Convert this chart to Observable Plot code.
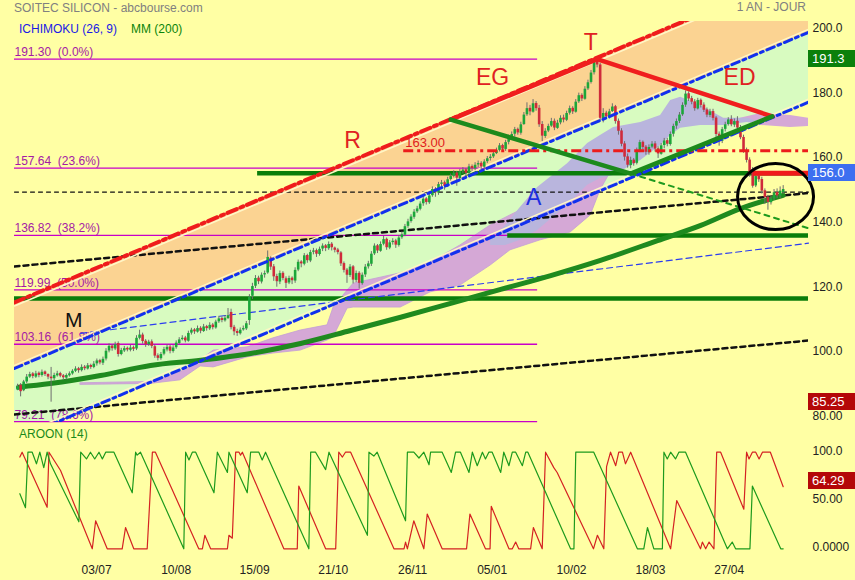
<!DOCTYPE html>
<html><head><meta charset="utf-8">
<script src="https://cdn.jsdelivr.net/npm/d3@7"></script>
<script src="https://cdn.jsdelivr.net/npm/@observablehq/plot@0.6"></script>
<style>
html,body{margin:0;padding:0;background:#ffffa4;}
#wrap{position:relative;width:855px;height:580px;overflow:hidden;background:#ffffa4;font-family:"Liberation Sans",Arial,sans-serif;}
#wrap svg{position:absolute;left:0;}
.t{position:absolute;white-space:nowrap;font-size:12px;line-height:14px;}
.box{position:absolute;left:808px;width:47px;height:17px;color:#fff;font-size:13px;line-height:17px;padding-left:4px;box-sizing:border-box;}
</style></head><body><div id="wrap"></div>
<script>
// ---------- DATA ----------
const yTickVals=[200,180,160,140,120,100,80];
const yTickLabels=["200.0","180.0","160.0","140.0","120.0","100.0","80.00"];
const xTickIdx=[25.9,52.0,77.7,103.5,129.5,155.6,181.6,207.5,233.3];
const xTickLabels=["03/07","10/08","15/09","21/10","26/11","05/01","10/02","18/03","27/04"];
const aroonTickVals=[100,50,0];
const aroonTickLabels=["100.0","50.00","0.0000"];

const open=[89.0,90.5,88.8,91.5,93.0,94.0,93.0,94.2,93.5,94.6,
93.8,93.0,92.5,93.4,94.1,93.4,92.7,93.4,94.0,94.8,
95.6,95.0,96.1,95.5,96.6,96.0,97.1,98.1,97.3,98.6,
101.1,102.6,101.7,103.4,100.0,101.1,101.9,101.3,102.1,101.7,
105.0,106.0,104.1,103.0,103.9,102.4,99.6,98.7,100.1,101.4,
102.3,100.9,102.1,103.4,104.6,105.1,104.1,106.6,107.6,106.9,
108.1,107.1,108.6,107.9,109.1,108.2,110.1,111.1,110.4,111.1,
113.0,108.4,107.1,106.4,107.6,107.9,110.5,118.0,121.1,123.6,
122.4,124.6,125.2,129.8,127.1,124.1,122.4,125.1,123.4,122.1,
123.6,122.7,126.1,128.6,127.9,130.6,128.9,131.6,132.1,130.9,
132.6,133.6,132.7,134.1,132.9,132.3,131.4,128.1,126.1,124.4,
127.1,122.9,125.1,121.9,124.6,127.1,127.9,131.1,133.6,131.9,
134.1,135.6,132.9,134.6,135.1,133.7,136.1,136.9,139.6,141.1,
142.4,144.1,144.9,146.6,148.1,146.9,149.1,151.1,149.9,152.6,
153.1,151.9,154.1,155.1,156.1,154.4,156.6,157.1,155.9,158.1,
157.4,158.6,159.1,157.9,159.6,160.6,161.1,162.1,163.1,164.6,
163.4,165.6,167.1,168.1,169.6,168.4,171.1,174.1,176.1,174.9,
177.6,176.1,171.1,167.4,169.1,170.6,172.1,169.9,171.6,173.1,
172.4,174.6,176.1,174.9,178.1,180.1,178.9,182.1,184.1,187.1,
190.6,189.5,172.9,174.6,173.4,175.1,176.6,172.1,169.1,165.1,
161.1,158.4,160.1,159.1,163.1,165.6,164.1,162.4,164.1,165.1,
163.6,161.9,164.6,166.1,164.9,168.1,170.6,172.1,174.1,177.1,
180.6,179.1,178.1,175.9,178.6,177.1,175.6,173.9,175.1,173.1,
168.1,165.9,169.6,171.1,172.6,170.9,172.1,170.1,167.1,163.1,
160.1,157.0,152.1,155.1,154.1,150.6,148.6,146.9,148.1,150.1,
148.9,150.0];
const high=[90.8,91.0,92.0,93.8,94.5,94.4,94.8,94.6,95.2,94.9,
94.0,96.0,94.2,94.8,94.5,93.8,94.0,94.6,95.3,96.2,
96.0,96.8,96.6,97.2,97.0,97.8,98.6,98.5,99.2,101.8,
103.3,103.0,103.8,103.9,101.9,102.5,102.3,102.8,102.6,105.8,
107.5,106.6,104.6,104.4,104.5,102.9,100.2,100.6,102.2,103.0,
102.8,102.7,104.2,105.2,105.8,105.6,107.2,108.1,108.0,108.8,
108.6,109.3,109.0,109.8,109.6,110.6,111.8,111.6,112.0,114.2,
114.0,109.0,107.8,108.2,108.8,110.2,118.5,122.0,124.4,124.2,
125.2,125.8,132.0,130.2,127.8,124.8,125.8,125.6,124.0,124.2,
124.0,126.8,129.2,129.0,131.2,131.0,132.2,132.8,132.6,133.2,
134.2,134.0,134.8,134.6,133.2,132.8,131.8,128.6,126.6,127.8,
127.5,125.8,125.6,125.2,127.8,128.8,131.8,134.2,134.0,134.8,
136.5,136.0,135.2,135.8,135.6,136.8,137.8,140.2,141.8,143.2,
144.8,145.8,147.2,148.8,148.5,149.8,151.8,151.6,153.2,153.8,
153.6,154.8,155.8,156.8,156.6,157.2,157.8,157.5,158.8,158.6,
159.3,159.8,159.6,160.2,161.2,161.8,162.8,163.8,165.2,165.0,
166.2,167.8,168.8,170.2,170.0,171.8,174.8,177.8,177.0,178.8,
178.2,177.0,172.0,169.8,171.2,173.0,172.8,172.4,173.8,174.0,
175.2,176.8,176.6,178.8,180.8,180.6,182.8,184.8,187.8,191.3,
191.0,190.0,176.0,175.2,175.8,177.5,177.0,172.8,169.8,165.8,
162.0,161.0,160.6,163.8,166.2,166.0,164.6,164.8,165.8,165.8,
164.2,165.2,166.8,166.8,168.8,171.2,172.8,174.8,177.8,181.5,
181.2,179.8,178.8,179.2,179.0,177.8,176.2,175.8,175.8,173.6,
168.8,170.2,171.8,173.2,173.8,172.8,173.5,170.8,167.8,163.8,
160.8,157.8,156.0,156.0,154.8,151.2,149.2,148.8,151.0,151.2,
151.8,152.2];
const low=[88.8,86.9,88.5,91.0,92.6,92.5,92.6,92.8,93.0,93.2,
92.2,85.25,91.8,93.0,92.8,92.0,92.2,93.0,93.6,94.4,
94.2,94.6,95.0,95.2,95.4,95.6,96.4,96.8,96.6,98.0,
100.5,101.0,101.2,99.2,99.6,100.6,100.8,100.8,100.9,101.2,
104.5,103.2,102.2,102.5,101.8,98.8,98.0,98.2,99.6,100.8,
100.2,100.4,101.6,103.0,104.2,103.6,103.8,106.0,106.2,106.6,
106.4,106.8,107.2,107.4,107.6,107.8,109.6,109.8,110.0,110.8,
107.6,105.8,105.6,106.0,107.2,107.4,109.0,117.0,120.4,121.6,
121.8,123.6,124.8,126.0,122.6,120.8,121.6,122.8,120.4,121.6,
121.6,122.0,125.6,126.8,127.4,128.2,128.4,130.8,130.0,130.4,
131.8,131.8,132.2,132.0,131.4,130.8,127.2,125.2,122.0,123.8,
121.8,122.2,120.2,121.4,123.8,126.4,127.2,130.6,131.2,131.6,
133.6,132.2,132.4,133.8,132.8,133.2,135.6,136.4,139.0,140.6,
141.8,143.6,144.4,145.8,146.2,146.4,148.6,148.6,149.2,151.8,
150.8,151.6,153.6,154.6,152.0,154.0,155.8,154.8,155.6,156.6,
156.8,157.8,157.2,157.0,159.0,159.8,160.6,161.8,162.6,162.8,
162.8,164.8,166.6,167.2,167.8,167.8,170.8,173.6,173.8,174.6,
175.2,170.2,165.8,166.8,168.6,170.2,169.2,169.6,171.0,171.6,
172.0,174.0,174.2,174.6,177.6,178.2,178.6,181.6,183.6,186.4,
188.6,172.2,171.6,172.8,172.8,174.8,171.2,167.8,164.2,159.8,
157.6,157.4,158.2,158.6,162.4,163.2,161.6,161.6,163.6,162.6,
160.6,161.6,163.6,164.2,164.4,167.2,169.6,171.4,173.6,176.4,
178.2,177.2,175.2,175.6,176.2,174.8,173.2,173.2,172.2,166.8,
164.4,165.2,168.8,170.6,170.4,170.2,169.2,166.4,162.2,159.2,
154.8,151.4,151.6,153.2,149.6,146.4,144.6,146.2,147.6,148.2,
148.2,149.6];
const close=[90.0,88.5,91.5,93.0,93.8,93.2,94.0,93.5,94.5,93.8,
93.0,92.5,93.5,94.0,93.3,92.8,93.5,94.0,94.8,95.5,
95.0,96.0,95.6,96.5,96.0,97.0,98.0,97.4,98.5,101.0,
102.5,101.8,103.0,100.0,101.2,101.8,101.4,102.0,101.6,105.0,
106.0,104.0,103.0,103.8,102.5,99.5,98.8,100.0,101.5,102.2,
101.0,102.0,103.5,104.5,105.0,104.2,106.5,107.5,107.0,108.0,
107.2,108.5,108.0,109.0,108.3,110.0,111.0,110.5,111.2,112.0,
108.3,107.0,106.5,107.5,108.0,109.5,117.7,121.0,123.5,122.5,
124.5,125.0,130.0,127.0,124.0,122.5,125.0,123.5,122.0,123.5,
122.8,126.0,128.5,128.0,130.5,129.0,131.5,132.0,131.0,132.5,
133.5,132.8,134.0,133.0,132.2,131.5,128.0,126.0,124.5,127.0,
123.0,125.0,122.0,124.5,127.0,128.0,131.0,133.5,132.0,134.0,
135.5,133.0,134.5,135.0,133.8,136.0,137.0,139.5,141.0,142.5,
144.0,145.0,146.5,148.0,147.0,149.0,151.0,150.0,152.5,153.0,
152.0,154.0,155.0,156.0,154.5,156.5,157.0,156.0,158.0,157.5,
158.5,159.0,158.0,159.5,160.5,161.0,162.0,163.0,164.5,163.5,
165.5,167.0,168.0,169.5,168.5,171.0,174.0,176.0,175.0,177.5,
176.0,171.0,167.5,169.0,170.5,172.0,170.0,171.5,173.0,172.5,
174.5,176.0,175.0,178.0,180.0,179.0,182.0,184.0,187.0,190.5,
189.5,173.0,174.5,173.5,175.0,176.5,172.0,169.0,165.0,161.0,
158.5,160.0,159.0,163.0,165.5,164.0,162.5,164.0,165.0,163.5,
162.0,164.5,166.0,165.0,168.0,170.5,172.0,174.0,177.0,180.5,
179.0,178.0,176.0,178.5,177.0,175.5,174.0,175.0,173.0,168.0,
166.0,169.5,171.0,172.5,171.0,172.0,170.0,167.0,163.0,160.0,
156.0,152.0,155.0,154.0,150.5,148.5,147.0,148.0,150.0,149.0,
150.5,151.0];

// moving average 200 [index, value]
const mm200=[[0.3,89.9],[10.8,91.0],[27.2,93.5],[43.6,96.6],[60,98.2],[76.4,100.3],[92.8,103.4],[109.2,107.4],[125.6,111.5],[142,115.8],[158.4,120.1],[174.8,124.4],[191.1,129.1],[209.8,135.2],[224,139.9],[237,145.1],[251,149.2]];

// Ichimoku cloud [index, top, bottom]
const cloudPink=[[20.7,91.1,90.6],[43.6,91.5,90.9],[53.4,94.5,92.0],[60,98.2,96.3],[64.3,101.2,96.0],[75.4,102.2,99.1],[83.9,105.0,100.3],[92.8,107.4,101.2],[101.6,109.0,104.3],[103.6,114.5,105.3],[108.2,119.8,114.2],[110.2,121.9,114.5],[125.6,125.1,114.5],[135.4,128.4,119.2],[145.2,133.7,121.3],[155.1,139.9,127.5],[161.6,143.0,132.2],[171.5,147.6,135.3],[181.3,152.3,137.7],[187.9,153.8,143.0],[191.1,155.3,150.7],[194.4,156.9,156.3]];
const cloudPinkEnd=[[237,173.0,172.6],[243.6,174.5,170.8],[253.4,173.9,170.2],[259.3,173.0,170.5]];
const cloudBlue=[[155.1,135.3,133.7],[160,139.9,133.7],[164.9,145.5,135.3],[170.5,151.6,138.3],[180.3,159.0,146.1],[186.9,165.2,152.3],[191.1,167.7,154.4],[195.4,170.2,155.3],[204.3,171.7,160.0],[210.8,173.9,164.6],[214.1,178.5,167.7],[217.4,179.5,169.9],[223.9,177.0,170.8],[231.5,173.0,170.8],[239.3,173.0,171.7],[243.6,171.7,171.1]];

// Fibonacci retracement levels
const fibVals=[191.30,157.64,136.82,119.99,103.16,79.21];
const fibPct=["0.0%","23.6%","38.2%","50.0%","61.8%","78.6%"];
const fibEndIdx=170.5;

// regression channel (index, price) endpoints
const chanI=[-1,259.3];
const redLine=[116.1,219.2];
const upperBlue=[95.7,199.6];
const lowerBlue=[73.5,178.0];
const blackTop=[127.2,149.9];
const blackLow=[81.45,104.3];
const blueThin=[[20.7,106.5],[259.3,134.4]];
const flatDash=150.2;

// horizontal supports [value, start index]
const greenLevels=[[156.0,78.7],[136.82,160.7],[117.3,-1]];
const redLevel=[156.0,241.3];
const level163=[163.0,126.6];
const level163Text="163.00";

// figure lines
const redFigure=[[142,172.6],[190,191.3],[247.4,173.6]];
const greenFigure=[[142,172.6],[201,155.9],[247.4,173.6]];
const greenDash=[[201,155.9],[259.3,139.0]];
const circleAt=[248.5,148.8];
const letters=[["M",18.4,110.6],["R",109.8,166.2],["EG",155.7,185.6],["T",187.9,196.4],["ED",236.7,185.6],["A",169.2,148.5]];

// right axis highlighted values
const lastHigh=191.3, support=156.0, lastLow=85.25, aroonLast=64.29;

// Aroon (14) [index, value]
const aroonUp=[[0.75,57],[2.6,42.5],[3.4,100],[4.8,100],[6.2,88],[7.3,100],[8.6,84],[9.7,100],[10.8,88],[20.1,28],[20.7,100],[22.6,93],[23.9,100],[25.3,93],[26.7,100],[27.8,93],[28.9,100],[31.6,100],[37.6,58],[38.7,100],[39.2,97],[40.3,100],[54.5,0],[55.1,100],[56.2,92],[57.3,100],[58.4,100],[64.4,58],[65.5,100],[68.8,79],[69.3,100],[75.3,58],[76.4,100],[79.1,100],[80.2,92],[81.3,100],[95.5,0],[96.1,100],[97.7,100],[101.0,82],[102.1,100],[114.7,14],[115.2,100],[116.8,96],[117.9,100],[127.2,29],[127.8,100],[129.9,100],[131.6,94],[133.2,100],[134.9,87],[135.4,100],[139.2,100],[142.2,79],[143.6,100],[145.2,100],[148.0,79],[149.1,100],[150.7,86],[152.4,100],[153.4,93],[154.5,100],[155.6,100],[158.4,79],[159.4,100],[161.1,86],[162.2,100],[163.3,100],[165.5,86],[166.6,100],[167.3,100],[181.3,0],[182.4,0],[183.0,100],[188.9,100],[203.2,0],[205.3,0],[206.5,22],[208.6,0],[211.4,0],[211.9,100],[213.0,93],[214.1,100],[215.7,93],[216.8,100],[219.0,100],[232.7,0],[234.3,7],[235.4,0],[240.1,0],[240.9,65],[250.2,0],[251.0,0]];
const aroonDown=[[0.75,95],[1.5,100],[9.7,43],[10.3,100],[14.1,81],[24.5,0],[25.6,29],[29.4,0],[34.3,0],[35.4,22],[38.1,0],[42.5,0],[44.2,100],[45.2,100],[59.4,0],[60.6,0],[61.4,14],[63.3,0],[68.8,0],[69.3,14],[70.4,11],[71.5,100],[72.6,100],[73.1,97],[73.7,100],[87.3,0],[91.7,0],[92.2,65],[101.0,0],[104.3,0],[105.3,100],[106.5,95],[107.5,100],[109.2,100],[123.4,0],[126.7,0],[127.2,7],[127.8,0],[129.9,29],[133.2,0],[134.3,36],[139.2,0],[147.2,0],[148.3,36],[153.4,0],[154.9,0],[155.3,44],[161.1,0],[162.2,0],[163.3,7],[164.3,0],[168.2,0],[169.1,22],[172.0,0],[173.1,100],[175.8,84],[176.9,79],[188.8,0],[190.1,14],[192.2,0],[193.1,85],[194.4,100],[196.1,86],[197.1,100],[198.3,100],[199.3,88],[201.0,100],[214.1,0],[216.1,50],[222.8,7],[223.9,0],[224.5,7],[225.6,0],[226.7,7],[228.3,0],[229.2,100],[230.5,100],[238.1,41],[239.0,100],[239.8,93],[240.9,100],[242.0,100],[243.1,93],[244.2,100],[246.8,100],[251.0,64.29]];

// ---------- BUILD ----------
const wrap=document.getElementById("wrap");
const FONT="'Liberation Sans', Arial, sans-serif";
const xDomain=[chanI[0],chanI[1]];
const candles=close.map((c,i)=>({i,o:open[i],h:high[i],l:low[i],c}));
const chan=chanI.map((i,k)=>({i,r:redLine[k],ub:upperBlue[k],lb:lowerBlue[k],bt:blackTop[k],bl:blackLow[k],fd:flatDash}));
const fib=fibVals.map((v,k)=>({v,label:v.toFixed(2)+"\u00a0 ("+fibPct[k]+")"}));
const yLab=new Map(yTickVals.map((v,k)=>[v,yTickLabels[k]]));
const xLab=new Map(xTickIdx.map((v,k)=>[v,xTickLabels[k]]));
const aLab=new Map(aroonTickVals.map((v,k)=>[v,aroonTickLabels[k]]));
const pairs=a=>a.map(([i,v])=>({i,v}));
const cl=a=>a.map(([i,t,b])=>({i,t,b}));
const letterColor={M:"#111",R:"#e02222",EG:"#e02222",T:"#e02222",ED:"#e02222",A:"#1f2fe0"};
const ellipse={draw(ctx){const rx=38,ry=33,k=0.5523;ctx.moveTo(rx,0);ctx.bezierCurveTo(rx,ry*k,rx*k,ry,0,ry);ctx.bezierCurveTo(-rx*k,ry,-rx,ry*k,-rx,0);ctx.bezierCurveTo(-rx,-ry*k,-rx*k,-ry,0,-ry);ctx.bezierCurveTo(rx*k,-ry,rx,-ry*k,rx,0);ctx.closePath();}};

const main=Plot.plot({
  width:855,height:430,marginLeft:14,marginRight:47,marginTop:21,marginBottom:8,
  style:{background:"transparent",fontFamily:FONT,fontSize:"12px",overflow:"visible"},
  x:{domain:xDomain,axis:null},
  y:{domain:[78.97,202.94],axis:null,label:null},
  marks:[
    Plot.areaY(chan,{x:"i",y1:"ub",y2:"r",fill:"#fbd392",clip:true}),
    Plot.areaY(chan,{x:"i",y1:"lb",y2:"ub",fill:"#d8fbc0",clip:true}),
    Plot.areaY(cl(cloudPink),{x:"i",y1:"b",y2:"t",fill:"#d5a8d6",stroke:"#c3a0d4",strokeWidth:0.8}),
    Plot.areaY(cl(cloudPinkEnd),{x:"i",y1:"b",y2:"t",fill:"#d5a8d6",clip:true}),
    Plot.areaY(cl(cloudBlue),{x:"i",y1:"b",y2:"t",fill:"#b9b5dd"}),
    Plot.ruleY(fib,{y:"v",x1:chanI[0],x2:fibEndIdx,stroke:"#c800c8",strokeWidth:1.3}),
    Plot.text(fib,{frameAnchor:"left",y:"v",text:"label",textAnchor:"start",dy:-7,fill:"#a41aa4",fontSize:12}),
    Plot.ruleY(greenLevels.map(([v,s])=>({v,s})),{y:"v",x1:"s",x2:chanI[1],stroke:"#0a7d0a",strokeWidth:4.5}),
    Plot.line(chan,{x:"i",y:"fd",stroke:"#111",strokeWidth:1.2,strokeDasharray:"4,4"}),
    Plot.line(chan,{x:"i",y:"bt",stroke:"#111",strokeWidth:2.5,strokeDasharray:"5,4",clip:true}),
    Plot.line(chan,{x:"i",y:"bl",stroke:"#111",strokeWidth:2.5,strokeDasharray:"5,4",clip:true}),
    Plot.line(pairs(blueThin),{x:"i",y:"v",stroke:"#2b3cf0",strokeWidth:1.2,strokeDasharray:"6,4"}),
    Plot.line(chan,{x:"i",y:"r",stroke:"#fff6c6",strokeWidth:1.6,dy:3.5,clip:true}),
    Plot.line(chan,{x:"i",y:"ub",stroke:"#fff6c6",strokeWidth:1.4,dy:-3,clip:true}),
    Plot.line(chan,{x:"i",y:"lb",stroke:"#fff6c6",strokeWidth:1.4,dy:-3,clip:true}),
    Plot.line(pairs(mm200),{x:"i",y:"v",stroke:"#1f8a1f",strokeWidth:5,curve:"catmull-rom"}),
    Plot.ruleX(candles,{x:"i",y1:"l",y2:"h",stroke:"#6e6e6e",strokeWidth:1}),
    Plot.ruleX(candles,{x:"i",y1:"o",y2:"c",stroke:d=>d.c>=d.o?"#1ca63a":"#cf2b3b",strokeWidth:2.6}),
    Plot.line(chan,{x:"i",y:"r",stroke:"#ef1c1c",strokeWidth:4,strokeDasharray:"10,4,3,4",clip:true}),
    Plot.line(chan,{x:"i",y:"ub",stroke:"#1230ee",strokeWidth:3,strokeDasharray:"8,4,3,4",clip:true}),
    Plot.line(chan,{x:"i",y:"lb",stroke:"#1230ee",strokeWidth:3,strokeDasharray:"8,4,3,4",clip:true}),
    Plot.ruleY([{v:level163[0],s:level163[1]}],{y:"v",x1:"s",x2:chanI[1],stroke:"#ec1c1c",strokeWidth:3,strokeDasharray:"10,4,3,4"}),
    Plot.text([{v:level163[0],s:level163[1]+0.5}],{x:"s",y:"v",text:()=>level163Text,textAnchor:"start",dy:-8,fill:"#e01c1c",fontSize:13}),
    Plot.line(pairs(greenDash),{x:"i",y:"v",stroke:"#1e9a1e",strokeWidth:2,strokeDasharray:"5,5"}),
    Plot.line(pairs(redFigure),{x:"i",y:"v",stroke:"#f01e1e",strokeWidth:4.5}),
    Plot.line(pairs(greenFigure),{x:"i",y:"v",stroke:"#1c8a1c",strokeWidth:4.5}),
    Plot.ruleY([{v:redLevel[0],s:redLevel[1]}],{y:"v",x1:"s",x2:chanI[1],stroke:"#f01a1a",strokeWidth:5}),
    Plot.dot([{i:circleAt[0],v:circleAt[1]}],{x:"i",y:"v",symbol:ellipse,r:5,stroke:"#000",strokeWidth:3,fill:"none"}),
    Plot.text(letters.map(([t,i,v])=>({t,i,v})),{x:"i",y:"v",text:"t",fill:d=>letterColor[d.t],fontSize:d=>d.t==="M"?21:23}),
    Plot.axisY({anchor:"right",ticks:yTickVals,tickFormat:d=>yLab.get(d),tickSize:0,tickPadding:4,dy:-3,label:null,color:"#222",fontSize:12})
  ]
});
main.style.top="0px";
wrap.appendChild(main);

const ar=Plot.plot({
  width:855,height:150,marginLeft:14,marginRight:47,marginTop:21.7,marginBottom:31.7,
  style:{background:"transparent",fontFamily:FONT,fontSize:"12px",overflow:"visible"},
  x:{domain:xDomain,axis:null},
  y:{domain:[0,100],axis:null,label:null},
  marks:[
    Plot.line(pairs(aroonDown),{x:"i",y:"v",stroke:"#d42222",strokeWidth:1.2}),
    Plot.line(pairs(aroonUp),{x:"i",y:"v",stroke:"#1d9a1d",strokeWidth:1.2}),
    Plot.axisY({anchor:"right",ticks:aroonTickVals,tickFormat:d=>aLab.get(d),tickSize:0,tickPadding:4,dy:-1.5,label:null,color:"#222",fontSize:12}),
    Plot.axisX({ticks:xTickIdx,tickFormat:d=>xLab.get(d),tickSize:0,tickPadding:17,label:null,color:"#222",fontSize:12})
  ]
});
ar.style.top="430px";
wrap.appendChild(ar);

// ---------- OVERLAYS ----------
function txt(s,left,top,color,extra){const d=document.createElement("div");d.className="t";d.textContent=s;d.style.left=left+"px";d.style.top=top+"px";d.style.color=color;if(extra)Object.assign(d.style,extra);wrap.appendChild(d);return d;}
txt("SOITEC SILICON - abcbourse.com",14,1,"#808080");
txt("1 AN - JOUR",0,0,"#808080",{left:"auto",right:"49px"});
txt("ICHIMOKU (26, 9)",19,22,"#1a1ae6");
txt("MM (200)",131,22,"#0a840a");
txt("AROON (14)",19,427,"#1a8a1a");
const ys=main.scale("y"), ya=ar.scale("y");
function box(v,label,bg,top){const d=document.createElement("div");d.className="box";d.textContent=label;d.style.background=bg;d.style.top=(top-8.5)+"px";wrap.appendChild(d);}
box(lastHigh,lastHigh.toFixed(1),"#0b800b",ys.apply(lastHigh));
box(support,support.toFixed(1),"#3d6ff0",ys.apply(support));
box(lastLow,lastLow.toFixed(2),"#b40808",ys.apply(lastLow));
box(aroonLast,aroonLast.toFixed(2),"#b40808",430+ya.apply(aroonLast)-5.5);
</script></body></html>
